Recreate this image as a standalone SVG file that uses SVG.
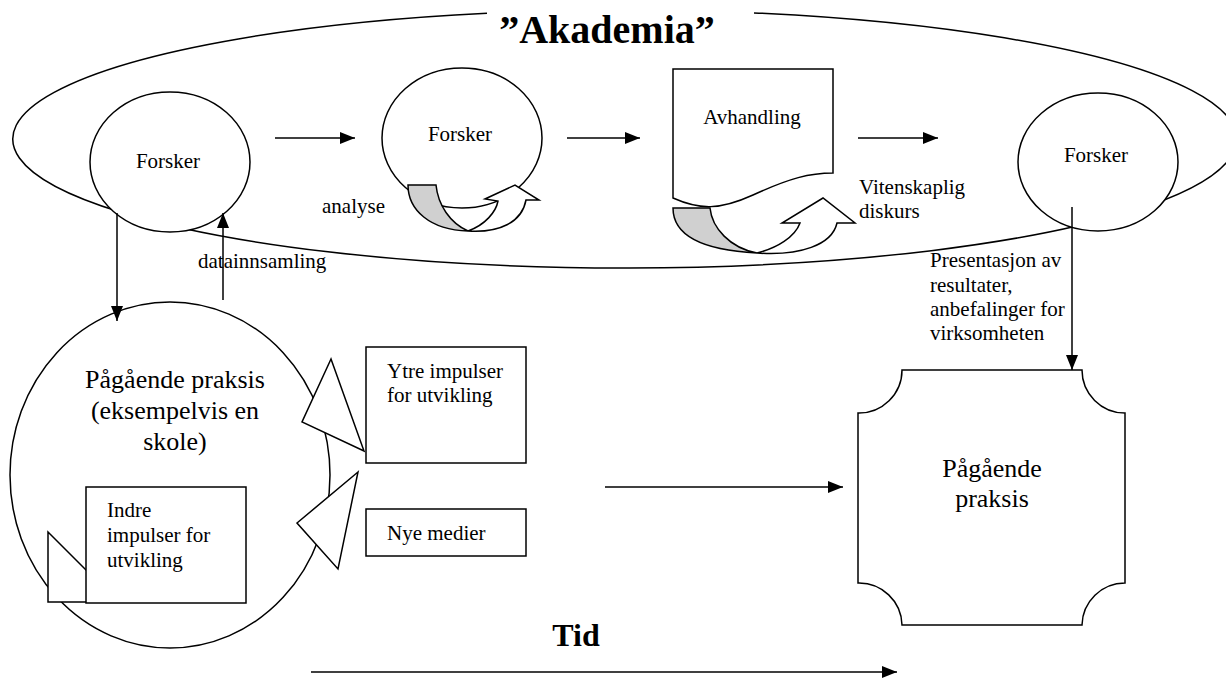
<svg xmlns="http://www.w3.org/2000/svg" width="1226" height="678" viewBox="0 0 1226 678">
<style>
.ln{fill:none;stroke:#000;stroke-width:1.5}
.shp{fill:#fff;stroke:#000;stroke-width:1.5}
.gry{fill:#d0d0d0;stroke:#000;stroke-width:1.5}
.t{font-family:"Liberation Serif","Times New Roman",serif;font-size:21px;fill:#000}
.tl{font-size:26px}
.tb{font-weight:bold}
.c{text-anchor:middle}
</style>
<defs>
<marker id="ah" markerUnits="userSpaceOnUse" markerWidth="15" markerHeight="12" refX="15" refY="6" orient="auto"><path d="M0,0 L15,6 L0,12 Z" fill="#000"/></marker>
</defs>
<g id="akademia">
<path class="ln" d="M487,13.3 A612,129 0 1 0 754,12.9"/>
<text class="t tb c" x="607" y="43" style="font-size:40px">”Akademia”</text>
</g>
<g id="forsker1">
<ellipse class="shp" cx="170" cy="162" rx="80" ry="70"/>
<text class="t c" x="168" y="168">Forsker</text>
</g>
<g id="forsker2">
<ellipse class="shp" cx="462" cy="138" rx="80" ry="70"/>
<text class="t c" x="460" y="141">Forsker</text>
<path class="gry" d="M408,185 L436,185 C438,205 450,223 468,231 C430,230 408,210 408,185 Z"/>
<path class="shp" d="M468,231 C485,225 496,212 498,201 L485,199 L515,185 L539,200 L526,200 C522,222 500,233 468,231 Z"/>
</g>
<text class="t" x="322" y="213">analyse</text>
<g id="avhandling">
<path class="shp" d="M673,69 L833,69 L833,173 C810,173 790,178 753,195 C720,210 700,210 673,198 Z"/>
<text class="t c" x="752" y="124">Avhandling</text>
<path class="gry" d="M673,208 L710,208 C712,228 730,248 757,253 C700,250 673,235 673,208 Z"/>
<path class="shp" d="M757,253 C777,248 795,237 800,223 L782,223 L823,198 L855,223 L837,223 C832,245 800,256 757,253 Z"/>
</g>
<text class="t" x="859" y="194">Vitenskaplig</text>
<text class="t" x="859" y="218">diskurs</text>
<g id="forsker3">
<ellipse class="shp" cx="1098" cy="162" rx="80" ry="69"/>
<text class="t c" x="1096" y="162">Forsker</text>
</g>
<text class="t" x="930" y="267">Presentasjon av</text>
<text class="t" x="930" y="292">resultater,</text>
<text class="t" x="930" y="316">anbefalinger for</text>
<text class="t" x="930" y="340">virksomheten</text>
<text class="t" x="198" y="268">datainnsamling</text>
<g id="praksis1">
<ellipse class="shp" cx="170" cy="475" rx="160" ry="173"/>
<text class="t tl c" x="175" y="388">Pågående praksis</text>
<text class="t tl c" x="175" y="419">(eksempelvis en</text>
<text class="t tl c" x="175" y="450">skole)</text>
<polygon class="shp" points="331,359 302,422 364,451"/>
<polygon class="shp" points="358,472 297,523 338,569"/>
</g>
<g id="indre">
<polygon class="shp" points="48,532 48,602 118,602"/>
<rect class="shp" x="86" y="487" width="160" height="116"/>
<text class="t" x="107" y="517">Indre</text>
<text class="t" x="107" y="542">impulser for</text>
<text class="t" x="107" y="567">utvikling</text>
</g>
<g id="ytre">
<rect class="shp" x="366" y="347" width="160" height="116"/>
<text class="t" x="387" y="378">Ytre impulser</text>
<text class="t" x="387" y="402">for utvikling</text>
</g>
<g id="nye">
<rect class="shp" x="366" y="509" width="160" height="47"/>
<text class="t" x="387" y="540">Nye medier</text>
</g>
<g id="praksis2">
<path class="shp" d="M902,370 L1082,370 A43,43 0 0 0 1125,413 L1125,583 A43,43 0 0 0 1082,625 L902,625 A43,43 0 0 0 858,583 L858,413 A43,43 0 0 0 902,370 Z"/>
<text class="t tl c" x="992" y="477">Pågående</text>
<text class="t tl c" x="992" y="507">praksis</text>
</g>
<text class="t tb c" x="576" y="646" style="font-size:32px">Tid</text>
<g id="connectors">
<line class="ln" x1="275" y1="138" x2="355" y2="138" marker-end="url(#ah)"/>
<line class="ln" x1="567" y1="138" x2="640" y2="138" marker-end="url(#ah)"/>
<line class="ln" x1="858" y1="138" x2="938" y2="138" marker-end="url(#ah)"/>
<line class="ln" x1="117" y1="213" x2="117" y2="321" marker-end="url(#ah)"/>
<line class="ln" x1="223" y1="300" x2="223" y2="213" marker-end="url(#ah)"/>
<line class="ln" x1="1072" y1="207" x2="1072" y2="370" marker-end="url(#ah)"/>
<line class="ln" x1="605" y1="487" x2="843" y2="487" marker-end="url(#ah)"/>
<line class="ln" x1="311" y1="672" x2="897" y2="672" marker-end="url(#ah)"/>
</g>
</svg>
